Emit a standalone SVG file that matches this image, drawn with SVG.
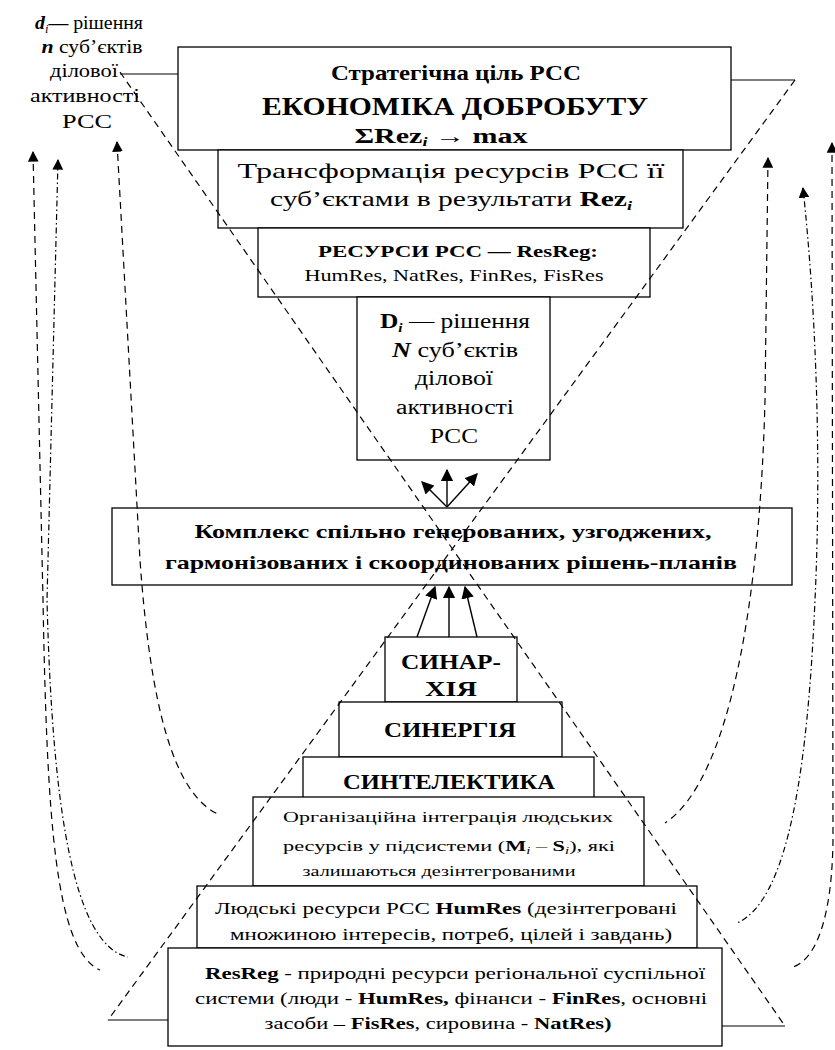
<svg xmlns="http://www.w3.org/2000/svg" width="835" height="1050" viewBox="0 0 835 1050" font-family="Liberation Serif, serif">
<defs>
<style>
.bx{fill:#fff;stroke:#000;stroke-width:1.3}
.t{text-anchor:middle;fill:#000}
.b{font-weight:bold}
.i{font-style:italic}
.ln{fill:none;stroke:#000;stroke-width:1.2}
.ds{fill:none;stroke:#000;stroke-width:1.2;stroke-dasharray:7 5}
.dd{fill:none;stroke:#000;stroke-width:1.2;stroke-dasharray:6 3 1.5 3}
.ar{fill:none;stroke:#000;stroke-width:1.4}
</style>
<marker id="ah" viewBox="0 0 10 10" refX="9" refY="5" markerWidth="9" markerHeight="9" orient="auto-start-reverse"><path d="M0,0 L10,5 L0,10 z" fill="#000"/></marker>
</defs>
<rect width="835" height="1050" fill="#fff"/>

<g id="label-di">
<text class="t" x="89" y="29" font-size="19" textLength="108" lengthAdjust="spacingAndGlyphs"><tspan class="b i">d</tspan><tspan class="i" font-size="12" dy="4">i</tspan><tspan dy="-4" class="b">—</tspan> рішення</text>
<text class="t" x="92" y="53" font-size="19" textLength="101" lengthAdjust="spacingAndGlyphs"><tspan class="b i">n</tspan> суб’єктів</text>
<text class="t" x="84" y="77" font-size="19" textLength="68" lengthAdjust="spacingAndGlyphs">ділової</text>
<text class="t" x="85" y="102" font-size="19" textLength="110" lengthAdjust="spacingAndGlyphs">активності</text>
<text class="t" x="87" y="128" font-size="19" textLength="50" lengthAdjust="spacingAndGlyphs">РСС</text>
</g>

<g id="box-goal">
<rect class="bx" x="178" y="47" width="553" height="103"/>
<text class="t b" x="456" y="80" font-size="21" textLength="250" lengthAdjust="spacingAndGlyphs">Стратегічна ціль РСС</text>
<text class="t b" x="455" y="115" font-size="25" textLength="386" lengthAdjust="spacingAndGlyphs">ЕКОНОМІКА ДОБРОБУТУ</text>
<text class="t b" x="441" y="143" font-size="20" textLength="173" lengthAdjust="spacingAndGlyphs">ΣRez<tspan class="i" font-size="12" dy="3">i</tspan><tspan dy="-3"> → max</tspan></text>
</g>

<g id="box-transform">
<rect class="bx" x="218" y="150" width="465" height="78"/>
<text class="t" x="451" y="178" font-size="21" textLength="427" lengthAdjust="spacingAndGlyphs">Трансформація ресурсів РСС її</text>
<text class="t" x="451" y="206" font-size="21" textLength="362" lengthAdjust="spacingAndGlyphs">суб’єктами в результати <tspan class="b">Rez</tspan><tspan class="i b" font-size="13" dy="4">i</tspan></text>
</g>

<g id="box-resources">
<rect class="bx" x="258" y="228" width="392" height="69"/>
<text class="t b" x="458" y="257" font-size="16" textLength="280" lengthAdjust="spacingAndGlyphs">РЕСУРСИ РСС — ResReg:</text>
<text class="t" x="454" y="281" font-size="16" textLength="299" lengthAdjust="spacingAndGlyphs">HumRes, NatRes, FinRes, FisRes</text>
</g>

<g id="box-decisions">
<rect class="bx" x="357" y="297" width="193" height="163"/>
<text class="t" x="455" y="328" font-size="20" textLength="150" lengthAdjust="spacingAndGlyphs"><tspan class="b">D</tspan><tspan class="i b" font-size="12" dy="4">i</tspan><tspan dy="-4"> — рішення</tspan></text>
<text class="t" x="455" y="357" font-size="20" textLength="126" lengthAdjust="spacingAndGlyphs"><tspan class="b i">N</tspan> суб’єктів</text>
<text class="t" x="454" y="385" font-size="20" textLength="78" lengthAdjust="spacingAndGlyphs">ділової</text>
<text class="t" x="455" y="414" font-size="20" textLength="118" lengthAdjust="spacingAndGlyphs">активності</text>
<text class="t" x="454" y="443" font-size="20" textLength="48" lengthAdjust="spacingAndGlyphs">РСС</text>
</g>

<g id="box-complex">
<rect class="bx" x="112" y="508" width="680" height="77"/>
<text class="t b" x="453" y="538" font-size="19" textLength="517" lengthAdjust="spacingAndGlyphs">Комплекс спільно генерованих, узгоджених,</text>
<text class="t b" x="451" y="569" font-size="19" textLength="572" lengthAdjust="spacingAndGlyphs">гармонізованих і скоординованих рішень-планів</text>
</g>

<g id="box-synarchy">
<rect class="bx" x="385" y="637" width="132" height="65"/>
<text class="t b" x="451" y="669" font-size="22" textLength="100" lengthAdjust="spacingAndGlyphs">СИНАР-</text>
<text class="t b" x="451" y="696" font-size="22" textLength="52" lengthAdjust="spacingAndGlyphs">ХІЯ</text>
</g>

<g id="box-synergy">
<rect class="bx" x="339" y="702" width="223" height="55"/>
<text class="t b" x="450" y="737" font-size="20" textLength="132" lengthAdjust="spacingAndGlyphs">СИНЕРГІЯ</text>
</g>

<g id="box-syntelectics">
<rect class="bx" x="303" y="757" width="291" height="41"/>
<text class="t b" x="449" y="789" font-size="20" textLength="212" lengthAdjust="spacingAndGlyphs">СИНТЕЛЕКТИКА</text>
</g>

<g id="box-integration">
<rect class="bx" x="253" y="797" width="391" height="89"/>
<text class="t" x="448" y="822" font-size="15" textLength="330" lengthAdjust="spacingAndGlyphs">Організаційна інтеграція людських</text>
<text class="t" x="449" y="851" font-size="15" textLength="332" lengthAdjust="spacingAndGlyphs">ресурсів у підсистеми (<tspan class="b">M</tspan><tspan class="i" font-size="10" dy="3">i</tspan><tspan dy="-3"> – </tspan><tspan class="b">S</tspan><tspan class="i" font-size="10" dy="3">i</tspan><tspan dy="-3">), які</tspan></text>
<text class="t" x="439" y="876" font-size="15" textLength="273" lengthAdjust="spacingAndGlyphs">залишаються дезінтегрованими</text>
</g>

<g id="box-human">
<rect class="bx" x="197" y="886" width="500" height="62"/>
<text class="t" x="446" y="914" font-size="16" textLength="462" lengthAdjust="spacingAndGlyphs">Людські ресурси РСС <tspan class="b">HumRes</tspan> (дезінтегровані</text>
<text class="t" x="451" y="940" font-size="16" textLength="442" lengthAdjust="spacingAndGlyphs">множиною інтересів, потреб, цілей і завдань)</text>
</g>

<g id="box-resreg">
<rect class="bx" x="168" y="948" width="554" height="98"/>
<text class="t" x="455" y="979" font-size="16" textLength="500" lengthAdjust="spacingAndGlyphs"><tspan class="b">ResReg</tspan> - природні ресурси регіональної суспільної</text>
<text class="t" x="451" y="1004" font-size="16" textLength="512" lengthAdjust="spacingAndGlyphs">системи (люди - <tspan class="b">HumRes,</tspan> фінанси - <tspan class="b">FinRes</tspan>, основні</text>
<text class="t" x="438" y="1029" font-size="16" textLength="347" lengthAdjust="spacingAndGlyphs">засоби – <tspan class="b">FisRes</tspan>, сировина - <tspan class="b">NatRes)</tspan></text>
</g>

<g id="connectors">
<line class="ln" x1="120" y1="74" x2="178" y2="74"/>
<line class="ln" x1="731" y1="80" x2="795" y2="80"/>
<line class="ln" x1="108" y1="1020" x2="168" y2="1020"/>
<line class="ln" x1="722" y1="1026" x2="785" y2="1026"/>
<line class="ds" x1="120" y1="72" x2="785" y2="1026"/>
<line class="ds" x1="795" y1="80" x2="108" y2="1020"/>

<line class="ar" x1="447" y1="507" x2="422" y2="482" marker-end="url(#ah)"/>
<line class="ar" x1="447" y1="507" x2="447" y2="470" marker-end="url(#ah)"/>
<line class="ar" x1="447" y1="507" x2="477" y2="474" marker-end="url(#ah)"/>

<line class="ar" x1="417" y1="637" x2="435" y2="587" marker-end="url(#ah)"/>
<line class="ar" x1="449" y1="637" x2="449" y2="587" marker-end="url(#ah)"/>
<line class="ar" x1="477" y1="637" x2="465" y2="587" marker-end="url(#ah)"/>

<path class="ds" d="M33,152 L43,600 C47,820 55,950 100,970" marker-start="url(#ah)"/>
<path class="dd" d="M58,160 L47,600 C52,800 72,945 128,957" marker-start="url(#ah)"/>
<path class="ds" d="M117,142 L140,560 C150,700 172,795 220,815" marker-start="url(#ah)"/>

<path class="ds" d="M768,158 L765,400 C760,600 730,780 665,823" marker-start="url(#ah)"/>
<path class="dd" d="M803,188 C815,300 822,450 815,600 C808,760 790,900 737,923" marker-start="url(#ah)"/>
<path class="ds" d="M832,143 L833,840 C832,920 815,960 793,967" marker-start="url(#ah)"/>
</g>
</svg>
